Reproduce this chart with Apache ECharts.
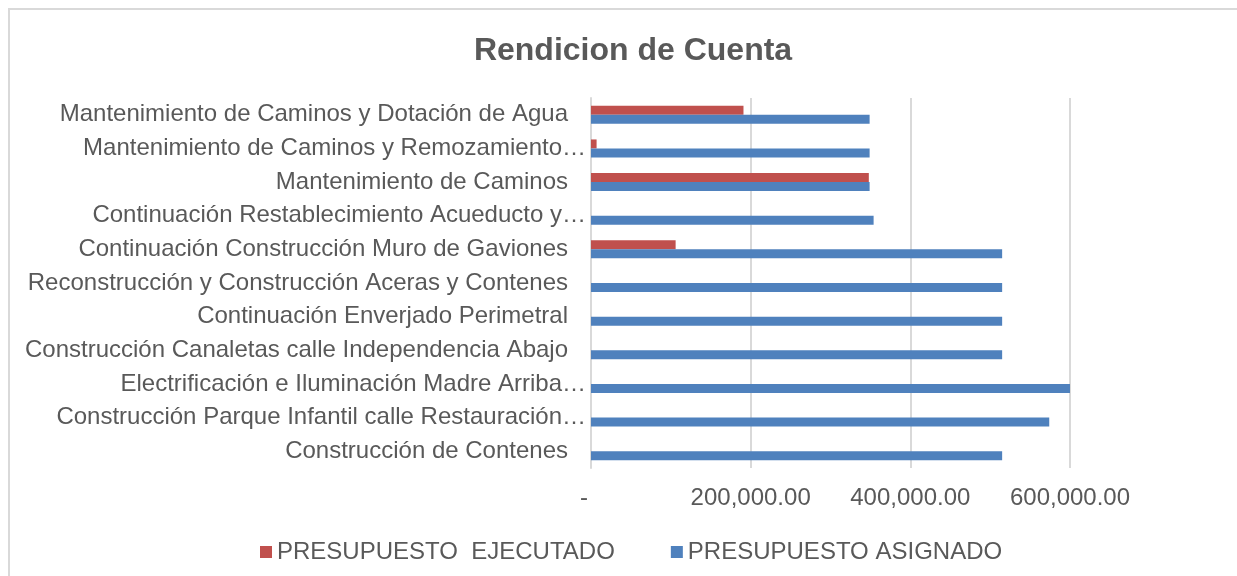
<!DOCTYPE html>
<html>
<head>
<meta charset="utf-8">
<script src="https://cdn.jsdelivr.net/npm/echarts@6/dist/echarts.min.js"></script>
<style>
  html, body { margin: 0; padding: 0; background: #fff; }
  #main { width: 1237px; height: 576px; }
</style>
</head>
<body>
<div id="main"></div>
<script>
// categories from bottom to top (as the category axis draws them)
var categories = [
    'Construcción de Contenes',
    'Construcción Parque Infantil calle Restauración…',
    'Electrificación e Iluminación Madre Arriba…',
    'Construcción Canaletas calle Independencia Abajo',
    'Continuación Enverjado Perimetral',
    'Reconstrucción y Construcción Aceras y Contenes',
    'Continuación Construcción Muro de Gaviones',
    'Continuación Restablecimiento Acueducto y…',
    'Mantenimiento de Caminos',
    'Mantenimiento de Caminos y Remozamiento…',
    'Mantenimiento de Caminos y Dotación de Agua'
];
var ejecutado = [0, 0, 0, 0, 0, 0, 106000, 0, 348000, 7000, 191000];
var asignado = [515000, 574000, 600000, 515000, 515000, 515000, 515000, 354000, 349000, 349000, 349000];
var xTicks = [0, 200000, 400000, 600000];

var font = 'Liberation Sans, Arial, sans-serif';
var grey = '#595959';

function fmtMoney(v) {
    if (v === 0) return '{z|-}';
    return '{n|' + v.toLocaleString('en-US', { minimumFractionDigits: 2, maximumFractionDigits: 2 }) + '}';
}

var myChart = echarts.init(document.getElementById('main'));

var option = {
    backgroundColor: '#fff',
    animation: false,
    graphic: [{
        type: 'rect',
        shape: { x: 9, y: 9, width: 1240, height: 600 },
        style: { fill: 'none', stroke: '#d9d9d9', lineWidth: 2 }
    }],
    title: {
        text: 'Rendicion de Cuenta',
        left: 628,
        top: 30,
        textAlign: 'center',
        textStyle: { fontFamily: font, fontSize: 32, fontWeight: 'bold', color: grey }
    },
    legend: {
        data: ['PRESUPUESTO  EJECUTADO', 'PRESUPUESTO ASIGNADO'],
        left: 255,
        top: 535,
        itemWidth: 12,
        itemHeight: 12,
        itemGap: 56,
        icon: 'rect',
        textStyle: { fontFamily: font, fontSize: 24, color: grey }
    },
    grid: { left: 591, right: 167, top: 98, bottom: 108, containLabel: false },
    xAxis: {
        type: 'value',
        min: 0,
        max: 600000,
        interval: 200000,
        axisLine: { show: false },
        axisTick: { show: false },
        splitLine: { lineStyle: { color: '#d9d9d9', width: 2 } },
        axisLabel: {
            margin: 18,
            formatter: function (v) {
                return xTicks.indexOf(v) >= 0 ? fmtMoney(v) : '';
            },
            rich: {
                n: { fontFamily: font, fontSize: 24, color: grey },
                z: { fontFamily: font, fontSize: 24, color: grey, padding: [0, 14, 0, 0] }
            }
        }
    },
    yAxis: {
        type: 'category',
        data: categories,
        axisLine: { show: true, lineStyle: { color: '#d9d9d9', width: 2 } },
        axisTick: { show: false },
        axisLabel: {
            margin: 0,
            formatter: function (v) {
                return v.slice(-1) === '…' ? '{t|' + v + '}' : '{n|' + v + '}';
            },
            rich: {
                n: { fontFamily: font, fontSize: 24, color: grey, padding: [0, 23, 0, 0] },
                t: { fontFamily: font, fontSize: 24, color: grey, padding: [0, 5, 0, 0] }
            }
        }
    },
    series: [
        {
            name: 'PRESUPUESTO  EJECUTADO',
            type: 'bar',
            data: ejecutado,
            barWidth: 9,
            barGap: '0%',
            itemStyle: { color: '#C0504D' }
        },
        {
            name: 'PRESUPUESTO ASIGNADO',
            type: 'bar',
            data: asignado,
            barWidth: 9,
            barGap: '0%',
            itemStyle: { color: '#4F81BD' }
        }
    ]
};

myChart.setOption(option);
</script>
</body>
</html>
